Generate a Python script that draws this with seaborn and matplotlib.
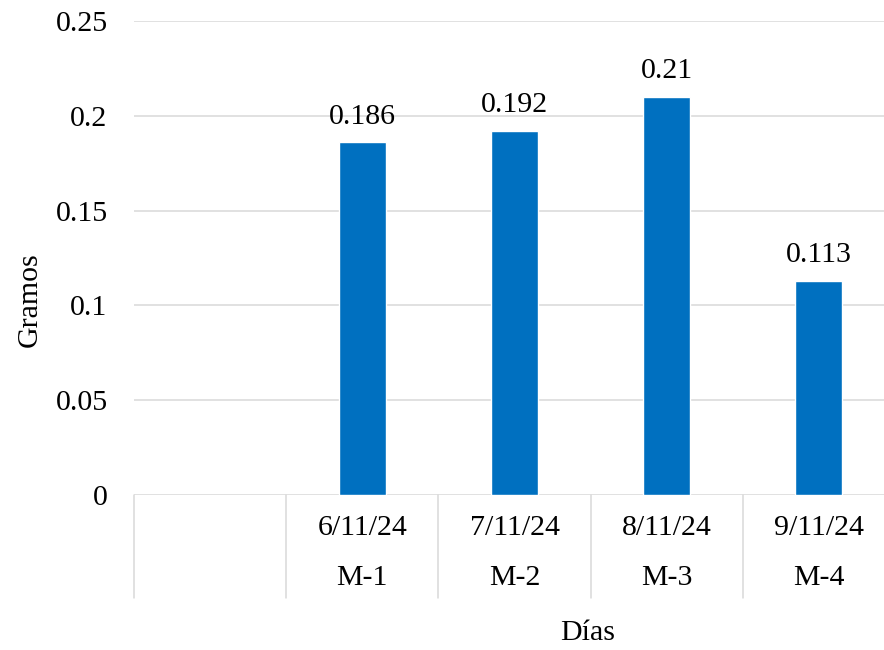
import pandas as pd
import numpy as np
import matplotlib.pyplot as plt
import seaborn as sns
from matplotlib.ticker import FuncFormatter

dias = ['6/11/24', '7/11/24', '8/11/24', '9/11/24']
muestras = ['M-1', 'M-2', 'M-3', 'M-4']
gramos = [0.186, 0.192, 0.21, 0.113]

df = pd.DataFrame({
    'Dia': dias,
    'Muestra': muestras,
    'Gramos': gramos
})

# empty first category, like the original spreadsheet
orden = [' '] + dias

sns.set_style('white')
plt.rcParams['font.family'] = ['Liberation Serif', 'DejaVu Serif']
plt.rcParams['text.color'] = 'black'
plt.rcParams['ytick.color'] = 'black'

fs = 21.5

fig = plt.figure(figsize=(8.84, 6.5), dpi=100)
ax = fig.add_axes([134/884, 1 - 495/650, (895-134)/884, (495-21)/650])

sns.barplot(
    data=df,
    x='Dia',
    y='Gramos',
    order=orden,
    color='#0070C0',
    width=0.31,
    saturation=1,
    ax=ax
)

ax.set_ylim(0, 0.25)
ax.set_xlim(-0.5, len(orden) - 0.5)
ax.set_yticks(np.arange(0, 0.2501, 0.05))
ax.yaxis.set_major_formatter(FuncFormatter(lambda v, p: f'{v:g}'))
ax.tick_params(axis='y', length=0, pad=19, labelsize=fs, labelcolor='black')
ax.set_xticks([])
ax.set_xlabel('')
ax.set_ylabel('')

ax.grid(axis='y', color='#D9D9D9', linewidth=1.1)
ax.set_axisbelow(True)
for s in ax.spines.values():
    s.set_visible(False)

# data labels
for i, v in enumerate(gramos):
    ax.annotate(f'{v:g}', (i + 1, v), xytext=(0, 9), textcoords='offset points',
                ha='center', va='bottom', fontsize=fs, color='black')

# two-level category axis
tr = ax.get_xaxis_transform()
sep_bottom = -(598 - 495) / 474
for b in np.arange(-0.5, len(orden) - 0.5, 1):
    ax.plot([b, b], [0, sep_bottom], transform=tr, color='#D9D9D9',
            linewidth=1.1, clip_on=False)

for i, (d, m) in enumerate(zip(dias, muestras)):
    ax.text(i + 1, -(528 - 495) / 474, d, transform=tr, ha='center',
            va='center', fontsize=fs, color='black')
    ax.text(i + 1, -(578 - 495) / 474, m, transform=tr, ha='center',
            va='center', fontsize=fs, color='black')

fig.text(588/884, 1 - 633/650, 'Días', ha='center', va='center', fontsize=fs)
fig.text(30/884, 1 - 300/650, 'Gramos', ha='center', va='center',
         rotation=90, fontsize=fs)

plt.savefig('out.png', dpi=100)
